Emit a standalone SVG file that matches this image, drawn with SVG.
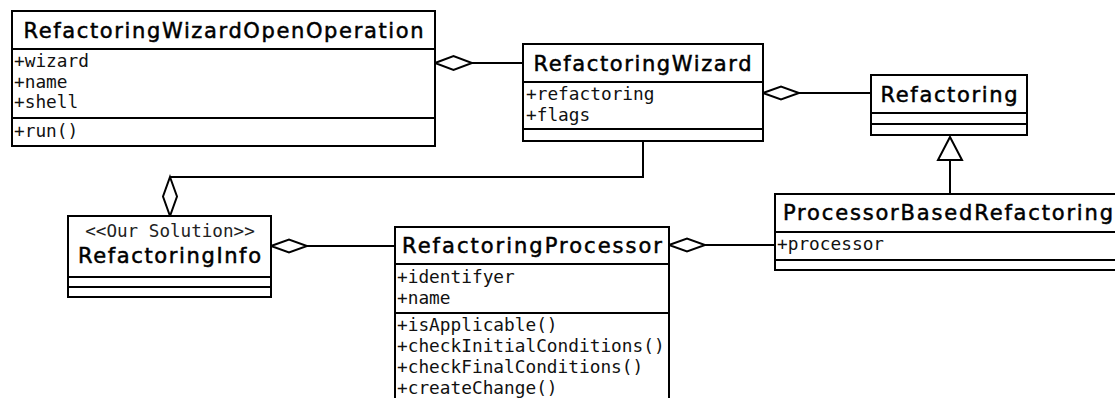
<svg xmlns="http://www.w3.org/2000/svg" width="1115" height="398" viewBox="0 0 1115 398">
<style>
.box{fill:#fff;stroke:#000;stroke-width:2}
.div{stroke:#000;stroke-width:2}
.t{font-family:"DejaVu Sans",sans-serif;font-size:21px;fill:#000;stroke:#000;stroke-width:0.5;text-anchor:middle}
.m{font-family:"DejaVu Sans Mono",monospace;font-size:17.8px;fill:#111}
.st{font-family:"DejaVu Sans Mono",monospace;font-size:17.6px;fill:#222;text-anchor:middle}
.ln{fill:none;stroke:#000;stroke-width:2}
.dia{fill:#fff;stroke:#000;stroke-width:2}
</style>
<rect width="1115" height="398" fill="#fff"/>
<g id="connectors">
  <path class="ln" d="M472 63 H523"/>
  <polygon class="dia" points="435,63 453.5,56 472,63 453.5,70"/>
  <path class="ln" d="M799 93 H871"/>
  <polygon class="dia" points="763,93 781,86.5 799,93 781,99.5"/>
  <path class="ln" d="M643 141 V177 H170"/>
  <polygon class="dia" points="170,177 177,196.5 170,216 163,196.5"/>
  <path class="ln" d="M307 246 H395"/>
  <polygon class="dia" points="271,246 289,239.5 307,246 289,252.5"/>
  <path class="ln" d="M705 245 H775"/>
  <polygon class="dia" points="669,245 687,238.5 705,245 687,251.5"/>
  <path class="ln" d="M950 160 V194"/>
  <polygon class="dia" points="950,137 962,160 938,160"/>
</g>
<g id="RefactoringWizardOpenOperation">
  <rect class="box" x="12" y="11" width="423" height="135"/>
  <line class="div" x1="12" y1="49" x2="435" y2="49"/>
  <line class="div" x1="12" y1="118" x2="435" y2="118"/>
  <text class="t" x="223.5" y="37.5" textLength="400" lengthAdjust="spacing">RefactoringWizardOpenOperation</text>
  <text class="m" x="14" y="67">+wizard</text>
  <text class="m" x="14" y="87.5">+name</text>
  <text class="m" x="14" y="108">+shell</text>
  <text class="m" x="14" y="137">+run()</text>
</g>
<g id="RefactoringWizard">
  <rect class="box" x="523" y="44" width="240" height="97"/>
  <line class="div" x1="523" y1="82" x2="763" y2="82"/>
  <line class="div" x1="523" y1="129" x2="763" y2="129"/>
  <text class="t" x="642.5" y="70.5" textLength="218" lengthAdjust="spacing">RefactoringWizard</text>
  <text class="m" x="526" y="100">+refactoring</text>
  <text class="m" x="526" y="120.5">+flags</text>
</g>
<g id="Refactoring">
  <rect class="box" x="871" y="75" width="156" height="60"/>
  <line class="div" x1="871" y1="113" x2="1027" y2="113"/>
  <line class="div" x1="871" y1="124" x2="1027" y2="124"/>
  <text class="t" x="949" y="101.5" textLength="137" lengthAdjust="spacing">Refactoring</text>
</g>
<g id="ProcessorBasedRefactoring">
  <rect class="box" x="775" y="194" width="350" height="76"/>
  <line class="div" x1="775" y1="232" x2="1125" y2="232"/>
  <line class="div" x1="775" y1="260" x2="1125" y2="260"/>
  <text class="t" x="948" y="220" textLength="330" lengthAdjust="spacing">ProcessorBasedRefactoring</text>
  <text class="m" x="777" y="250">+processor</text>
</g>
<g id="RefactoringInfo">
  <rect class="box" x="68" y="216" width="203" height="81"/>
  <line class="div" x1="68" y1="277" x2="271" y2="277"/>
  <line class="div" x1="68" y1="287" x2="271" y2="287"/>
  <text class="st" x="170" y="237">&lt;&lt;Our Solution&gt;&gt;</text>
  <text class="t" x="169.5" y="262.5" textLength="183" lengthAdjust="spacing">RefactoringInfo</text>
</g>
<g id="RefactoringProcessor">
  <rect class="box" x="395" y="227" width="274" height="190"/>
  <line class="div" x1="395" y1="264" x2="669" y2="264"/>
  <line class="div" x1="395" y1="313" x2="669" y2="313"/>
  <text class="t" x="532" y="253" textLength="260" lengthAdjust="spacing">RefactoringProcessor</text>
  <text class="m" x="397" y="283">+identifyer</text>
  <text class="m" x="397" y="304">+name</text>
  <text class="m" x="397" y="331">+isApplicable()</text>
  <text class="m" x="397" y="352">+checkInitialConditions()</text>
  <text class="m" x="397" y="373">+checkFinalConditions()</text>
  <text class="m" x="397" y="394">+createChange()</text>
</g>
</svg>
